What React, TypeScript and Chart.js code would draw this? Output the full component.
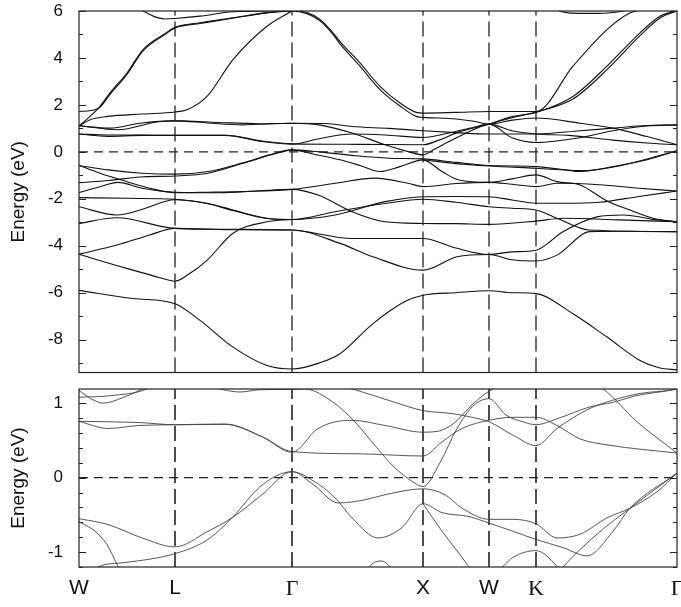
import React, { useEffect, useRef } from "react";
import { Chart, registerables } from "chart.js";
Chart.register(...registerables);

// ---- path (k positions of the high-symmetry points) ----
const kPoints = [0, 96, 213, 344, 410, 457, 598];
const kLabels = ["W", "L", "Γ", "X", "W", "K", "Γ"];
const kSerif = [false, false, true, false, false, true, true];

// ---- axes ----
const topRange = [-9.4, 6];
const bottomRange = [-1.2, 1.19];
const topTickValues = [-8, -6, -4, -2, 0, 2, 4, 6];
const bottomTickValues = [-1, 0, 1];
const topMinorTicks = [-9, -8, -7, -6, -5, -4, -3, -2, -1, 0, 1, 2, 3, 4, 5, 6];
const bottomMinorTicks = [-1.2, -1.0, -0.8, -0.6, -0.4, -0.2, 0, 0.2, 0.4, 0.6, 0.8, 1.0];

type Band = [number, number][];

// ---- upper panel: conduction bands ----
const tc1: Band = [[40, 6.4], [64, 6.0], [76, 5.75], [86, 5.66], [96, 5.68], [121, 5.78], [154, 5.97], [213, 6.02], [228, 5.93], [241, 5.64], [254, 5.07], [261, 4.7], [281, 3.79], [301, 2.79], [321, 2.08], [338, 1.67], [344, 1.65], [377, 1.68], [410, 1.72], [433, 1.72], [457, 1.72], [494, 3.65], [528, 5.21], [551, 5.92], [575, 6.1]];
const tc2: Band = [[0, 1.1], [11, 1.51], [21, 1.94], [31, 2.51], [48, 3.36], [64, 4.36], [87, 5.07], [96, 5.31], [121, 5.5], [154, 5.71], [188, 5.93], [213, 6.0], [228, 5.88], [241, 5.58], [254, 5.0], [261, 4.6], [281, 3.65], [301, 2.65], [321, 1.95], [338, 1.5], [344, 1.47], [377, 1.4], [395, 1.3], [410, 1.18], [433, 1.35], [457, 1.44], [501, 1.22], [534, 1.01], [568, 0.65], [598, 0.3]];
const tc3: Band = [[0, 1.72], [12, 1.76], [21, 1.9], [31, 2.45], [48, 3.3], [64, 4.3], [87, 5.03], [96, 5.28], [121, 5.47], [154, 5.69], [188, 5.92], [213, 6.0]];
const tc4: Band = [[0, 1.1], [10, 1.35], [29, 1.51], [63, 1.61], [96, 1.7], [108, 1.79], [128, 2.36], [154, 3.93], [188, 5.35], [213, 6.0]];
const tc5: Band = [[0, 1.1], [31, 1.01], [61, 1.22], [96, 1.32], [129, 1.23], [163, 1.15], [213, 1.22], [250, 1.2], [273, 1.08], [310, 1.0], [344, 0.9], [377, 0.82], [410, 0.76], [433, 0.76], [457, 0.76], [501, 0.9], [534, 1.01], [568, 1.12], [598, 1.15]];
const tc6: Band = [[0, 1.12], [39, 0.94], [79, 1.28], [96, 1.32], [140, 1.25], [180, 1.2], [213, 1.22], [240, 1.15], [273, 0.8], [306, 0.3], [330, 0.0], [344, -0.13], [355, 0.1], [373, 0.5], [395, 0.95], [410, 1.18], [433, 0.9], [457, 0.76], [490, 0.7], [534, 0.5], [568, 0.38], [598, 0.3]];
const tc7: Band = [[0, 0.76], [29, 0.72], [63, 0.72], [96, 0.7], [146, 0.7], [183, 0.44], [213, 0.33], [239, 0.55], [273, 0.76], [306, 0.72], [344, 0.61], [370, 0.8], [395, 1.05], [410, 1.18], [433, 0.6], [457, 0.4], [501, 0.6], [534, 0.9], [568, 1.1], [598, 1.15]];
const tc8: Band = [[0, 0.76], [29, 0.66], [63, 0.7], [96, 0.7], [146, 0.71], [183, 0.46], [213, 0.34], [280, 0.32], [344, 0.3], [360, 0.5], [380, 0.85], [410, 1.18], [433, 1.5], [457, 1.68], [494, 2.36], [528, 3.65], [561, 5.07], [581, 5.78], [598, 6.0]];
const tc9: Band = [[410, 1.18], [433, 1.45], [457, 1.7], [494, 2.25], [528, 3.5], [561, 4.95], [581, 5.7], [598, 6.0]];
const tc10: Band = [[470, 6.15], [485, 5.95], [500, 5.9], [520, 5.9], [540, 5.97], [555, 6.1]];

// ---- upper panel: valence bands ----
const tv1: Band = [[0, -0.58], [29, -0.77], [63, -0.91], [96, -0.95], [129, -0.84], [163, -0.48], [196, -0.06], [213, 0.085], [240, 0.0], [273, -0.15], [310, -0.27], [344, -0.3], [377, -0.45], [410, -0.58], [433, -0.6], [457, -0.63], [484, -0.75], [501, -0.84], [534, -0.63], [568, -0.34], [598, 0.05]];
const tv2: Band = [[0, -0.58], [21, -0.91], [48, -1.27], [71, -1.55], [96, -1.74], [129, -1.72], [163, -1.69], [213, -1.6], [256, -1.34], [296, -1.12], [330, -1.35], [344, -1.48], [377, -1.35], [410, -1.3], [433, -1.38], [457, -1.48], [478, -1.34], [520, -1.4], [560, -1.55], [598, -1.67]];
const tv3: Band = [[0, -1.31], [30, -1.22], [61, -1.07], [96, -1.03], [129, -0.91], [163, -0.5], [196, -0.08], [213, 0.085], [235, -0.1], [261, -0.34], [281, -0.58], [301, -0.84], [321, -0.63], [344, -0.34], [363, -0.84], [380, -1.2], [410, -1.3], [433, -1.15], [457, -0.98], [478, -1.27], [501, -1.41], [528, -2.09], [551, -2.48], [574, -2.83], [598, -2.98]];
const tv4: Band = [[0, -1.74], [20, -1.5], [39, -1.3], [63, -1.55], [96, -1.72], [140, -1.74], [180, -1.66], [213, -1.6], [239, -1.84], [273, -2.55], [306, -2.98], [344, -3.05], [377, -3.06], [410, -3.09], [457, -2.95], [484, -2.83], [540, -2.9], [598, -2.98]];
const tv5: Band = [[0, -1.95], [48, -1.98], [96, -2.02], [128, -2.19], [154, -2.48], [188, -2.83], [213, -2.88], [256, -2.69], [306, -2.12], [344, -1.91], [377, -1.9], [410, -1.91], [433, -2.05], [457, -2.19], [484, -2.19], [520, -2.15], [560, -1.9], [598, -1.67]];
const tv6: Band = [[0, -2.34], [38, -2.69], [61, -2.48], [96, -2.04], [128, -2.2], [154, -2.5], [188, -2.84], [213, -2.88], [256, -2.55], [306, -2.2], [344, -2.02], [377, -2.15], [410, -2.34], [433, -2.4], [457, -2.48], [478, -2.83], [510, -3.33], [598, -3.4]];
const tv7: Band = [[0, -3.05], [38, -2.81], [96, -3.26], [154, -3.3], [213, -3.33], [273, -3.69], [344, -3.69], [377, -4.1], [410, -4.37], [433, -4.26], [457, -4.19], [484, -3.4], [518, -2.77], [544, -2.69], [578, -2.9], [598, -2.98]];
const tv8: Band = [[0, -4.36], [38, -3.97], [70, -3.55], [96, -3.26], [150, -3.32], [213, -3.33], [261, -3.9], [294, -4.47], [344, -5.04], [378, -4.47], [410, -4.37], [433, -4.6], [457, -4.65], [478, -4.4], [511, -3.4], [550, -3.38], [598, -3.4]];
const tv9: Band = [[0, -4.36], [30, -4.75], [54, -5.04], [80, -5.35], [96, -5.51], [108, -5.26], [128, -4.62], [154, -3.47], [188, -2.98], [213, -2.88]];
const tv10: Band = [[0, -5.9], [54, -6.25], [96, -6.47], [121, -7.18], [154, -8.32], [188, -9.1], [213, -9.25], [240, -9.0], [261, -8.6], [294, -7.32], [325, -6.4], [344, -6.11], [377, -6.0], [410, -5.92], [433, -6.0], [457, -6.04], [494, -6.9], [528, -7.89], [561, -8.89], [580, -9.2], [598, -9.29]];
const tv11: Band = [[344, -0.34], [377, -0.5], [410, -0.6], [457, -0.7], [501, -0.8], [540, -0.6], [598, 0.05]];

// ---- lower panel: conduction bands ----
const bc1: Band = [[0, 1.17], [12, 1.06], [24, 1.0], [45, 1.08], [68, 1.22]];
const bc2: Band = [[0, 1.08], [31, 1.1], [68, 1.19], [75, 1.25]];
const bc3: Band = [[125, 1.25], [144, 1.18], [161, 1.15], [181, 1.18], [213, 1.185], [226, 1.19], [249, 1.06], [273, 0.79], [293, 0.48], [313, 0.17], [333, -0.05], [344, -0.12], [361, 0.2], [378, 0.66], [394, 0.96], [410, 1.06], [427, 0.84], [444, 0.75], [457, 0.71], [478, 0.79], [511, 0.95], [534, 1.01], [557, 1.1], [594, 1.18], [605, 1.22]];
const bc4: Band = [[0, 0.756], [29, 0.66], [60, 0.7], [96, 0.71], [146, 0.72], [183, 0.55], [213, 0.34], [239, 0.66], [273, 0.77], [306, 0.7], [344, 0.61], [358, 0.62], [374, 0.72], [394, 0.99], [410, 1.16], [425, 1.25]];
const bc5: Band = [[0, 0.756], [60, 0.74], [96, 0.71], [146, 0.715], [183, 0.55], [213, 0.35], [280, 0.32], [344, 0.29], [363, 0.48], [383, 0.66], [410, 0.77], [434, 0.81], [457, 0.81], [478, 0.7], [501, 0.52], [528, 0.44], [598, 0.33]];
const bc6: Band = [[255, 1.25], [276, 1.18], [316, 1.01], [344, 0.9], [373, 0.86], [393, 0.81], [410, 0.75], [434, 0.57], [457, 0.43], [478, 0.66], [511, 0.93], [534, 1.04], [561, 1.13], [594, 1.18], [605, 1.22]];
const bc7: Band = [[510, 1.26], [524, 1.19], [558, 0.75], [598, 0.33]];

// ---- lower panel: valence bands ----
const bv1: Band = [[0, -0.55], [29, -0.63], [63, -0.81], [96, -0.93], [129, -0.72], [153, -0.54], [183, -0.23], [213, 0.08], [235, -0.05], [256, -0.27], [273, -0.54], [299, -0.81], [323, -0.67], [344, -0.35], [363, -0.47], [389, -0.52], [410, -0.61], [434, -0.72], [457, -0.83], [484, -0.94], [508, -1.05], [534, -0.72], [551, -0.41], [598, 0.06]];
const bv2: Band = [[12, -1.3], [19, -1.2], [46, -1.14], [96, -1.02], [129, -0.83], [153, -0.54], [183, -0.1], [213, 0.08], [235, -0.1], [259, -0.34], [285, -0.3], [306, -0.23], [344, -0.15], [366, -0.23], [383, -0.41], [410, -0.56], [434, -0.56], [457, -0.62], [478, -0.81], [501, -0.76], [528, -0.54], [551, -0.41], [578, -0.19], [598, 0.06]];
const bv3: Band = [[0, -0.59], [16, -0.72], [28, -0.9], [39, -1.19], [44, -1.3]];
const bv4: Band = [[344, -0.35], [363, -0.72], [383, -1.07], [395, -1.3]];
const bv5: Band = [[412, -1.3], [424, -1.19], [434, -1.07], [457, -0.98], [478, -1.19], [484, -1.3]];
const bv6: Band = [[478, -1.3], [484, -1.2], [518, -0.76], [551, -0.41], [598, 0.06]];
const bv7: Band = [[286, -1.3], [293, -1.16], [303, -1.12], [311, -1.2], [316, -1.3]];

const topBands = [tc1, tc2, tc3, tc4, tc5, tc6, tc7, tc8, tc9, tc10, tv1, tv2, tv3, tv4, tv5, tv6, tv7, tv8, tv9, tv10, tv11];
const bottomBands = [bc1, bc2, bc3, bc4, bc5, bc6, bc7, bv1, bv2, bv3, bv4, bv5, bv6, bv7];

const SANS = "'Liberation Sans', Arial, Helvetica, sans-serif";
const SERIF = "'Liberation Serif', 'Times New Roman', serif";

const framePlugin = {
  id: "frame",
  afterDatasetsDraw(chart: any, _args: any, opts: any) {
    const { ctx, chartArea: a, scales } = chart;
    ctx.save();
    ctx.strokeStyle = "#222";
    ctx.lineWidth = 1.2;
    ctx.strokeRect(a.left, a.top, a.right - a.left, a.bottom - a.top);
    ctx.lineWidth = 1;
    for (const v of opts.minor as number[]) {
      const y = Math.round(scales.y.getPixelForValue(v)) + 0.5;
      const len = (opts.major as number[]).includes(v) ? 7 : 4;
      ctx.beginPath();
      ctx.moveTo(a.left, y);
      ctx.lineTo(a.left + len, y);
      ctx.moveTo(a.right, y);
      ctx.lineTo(a.right - len, y);
      ctx.stroke();
    }
    ctx.restore();
  },
};

function buildDatasets(bands: Band[], range: number[], color: string, width: number, vWidth: number) {
  const ds: any[] = bands.map((b) => ({
    data: b.map(([x, y]) => ({ x, y })),
    borderColor: color,
    borderWidth: width,
    pointRadius: 0,
    cubicInterpolationMode: "monotone",
    fill: false,
  }));
  kPoints.slice(1, -1).forEach((k) => {
    ds.push({
      data: [{ x: k, y: range[0] }, { x: k, y: range[1] }],
      borderColor: "#222",
      borderWidth: vWidth,
      borderDash: [15, 6],
      pointRadius: 0,
      fill: false,
    });
  });
  ds.push({
    data: [{ x: kPoints[0], y: 0 }, { x: kPoints[kPoints.length - 1], y: 0 }],
    borderColor: "#222",
    borderWidth: 1.2,
    borderDash: [9, 6],
    pointRadius: 0,
    fill: false,
  });
  return ds;
}

function yAxis(range: number[], ticks: number[]) {
  return {
    type: "linear",
    min: range[0],
    max: range[1],
    afterBuildTicks: (s: any) => {
      s.ticks = ticks.map((v) => ({ value: v }));
    },
    afterFit: (s: any) => {
      s.width = 79;
      s.paddingTop = 0;
      s.paddingBottom = 0;
    },
    grid: { display: false, drawTicks: false },
    border: { display: false },
    ticks: { padding: 16, color: "#111", font: { family: SANS, size: 17 } },
    title: {
      display: true,
      text: "Energy (eV)",
      color: "#111",
      font: { family: SANS, size: 19 },
      padding: { top: 7, bottom: 0 },
    },
  };
}

export default function App() {
  const topRef = useRef<HTMLCanvasElement>(null);
  const botRef = useRef<HTMLCanvasElement>(null);

  useEffect(() => {
    const top = new Chart(topRef.current!, {
      type: "line",
      data: { datasets: buildDatasets(topBands, topRange, "#111", 1.1, 1.3) },
      options: {
        animation: false,
        responsive: false,
        maintainAspectRatio: false,
        layout: { padding: { top: 11, right: 4, bottom: 7.5, left: 0 } },
        plugins: {
          legend: { display: false },
          tooltip: { enabled: false },
          frame: { minor: topMinorTicks, major: topTickValues },
        } as any,
        scales: {
          x: { type: "linear", min: kPoints[0], max: kPoints[kPoints.length - 1], display: false },
          y: yAxis(topRange, topTickValues) as any,
        },
      },
      plugins: [framePlugin],
    });

    const bottom = new Chart(botRef.current!, {
      type: "line",
      data: { datasets: buildDatasets(bottomBands, bottomRange, "#444", 0.9, 1.6) },
      options: {
        animation: false,
        responsive: false,
        maintainAspectRatio: false,
        layout: { padding: { top: 9, right: 4, bottom: 0, left: 0 } },
        plugins: {
          legend: { display: false },
          tooltip: { enabled: false },
          frame: { minor: bottomMinorTicks, major: bottomTickValues },
        } as any,
        scales: {
          x: {
            type: "linear",
            min: kPoints[0],
            max: kPoints[kPoints.length - 1],
            afterBuildTicks: (s: any) => {
              s.ticks = kPoints.map((v) => ({ value: v }));
            },
            afterFit: (s: any) => {
              s.height = 40;
              s.paddingLeft = 0;
              s.paddingRight = 0;
            },
            grid: { display: false, drawTicks: false },
            border: { display: false },
            ticks: {
              autoSkip: false,
              maxRotation: 0,
              padding: 9,
              color: "#111",
              callback: (_v: any, i: number) => kLabels[i],
              font: (c: any) => ({
                family: kSerif[c.index] ? SERIF : SANS,
                size: kSerif[c.index] ? 22 : 21,
              }),
            },
          },
          y: yAxis(bottomRange, bottomTickValues) as any,
        },
      },
      plugins: [framePlugin],
    });

    return () => {
      top.destroy();
      bottom.destroy();
    };
  }, []);

  return (
    <div style={{ position: "fixed", left: 0, top: 0, width: 681, height: 607, background: "#fff" }}>
      <canvas ref={topRef} width={681} height={380} style={{ position: "absolute", left: 0, top: 0 }} />
      <canvas ref={botRef} width={681} height={227} style={{ position: "absolute", left: 0, top: 380 }} />
    </div>
  );
}
